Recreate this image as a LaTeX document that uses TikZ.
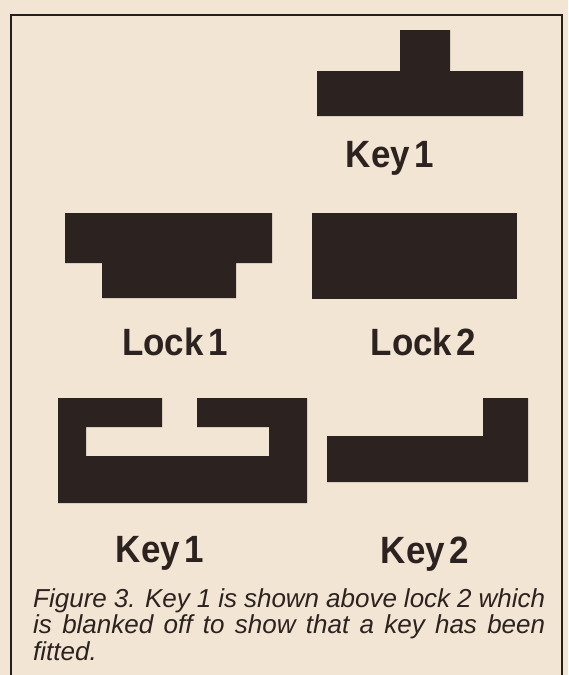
\documentclass[tikz,border=0pt]{standalone}
\usepackage{fontspec}
\setmainfont{Liberation Sans}
\definecolor{paper}{RGB}{243,229,212}
\definecolor{ink}{RGB}{44,34,31}
\definecolor{framec}{RGB}{35,32,30}
\begin{document}
\begin{tikzpicture}[x=1pt,y=-1pt,
  shapefill/.style={fill=ink,draw=none},
  lbl/.style={inner sep=0pt,anchor=base,text=ink,font=\fontsize{38}{40}\selectfont\bfseries},
  captxt/.style={inner sep=0pt,anchor=base west,text=ink,font=\fontsize{26}{28}\selectfont\itshape}]
\fill[paper] (0,0) rectangle (568,675);
\useasboundingbox (0,0) rectangle (568,675);
% frame
\draw[framec,line width=2.2pt] (11,675) -- (11,15) -- (562,15) -- (562,675);
% Key 1 (top)
\fill[shapefill] (317,71) -- (400,71) -- (400,30) -- (450,30) -- (450,71) -- (523,71) -- (523,116) -- (317,116) -- cycle;
\node[lbl] (k1a) at (390,167) {\scalebox{0.92}[1]{Key\hspace{5pt}1}};
% Lock 1
\fill[shapefill] (65,213) -- (272,213) -- (272,263) -- (236,263) -- (236,298) -- (102,298) -- (102,263) -- (65,263) -- cycle;
\node[lbl] (l1) at (175,355) {\scalebox{0.92}[1]{Lock\hspace{5pt}1}};
% Lock 2
\fill[shapefill] (312,213) rectangle (517,299);
\node[lbl] (l2) at (423.5,355) {\scalebox{0.92}[1]{Lock\hspace{5pt}2}};
% Key 1 (bottom)
\fill[shapefill] (58,398) -- (162,398) -- (162,427) -- (86,427) -- (86,456) -- (269,456) -- (269,427) -- (197,427) -- (197,398) -- (307,398) -- (307,503) -- (58,503) -- cycle;
\node[lbl] (k1b) at (160,562) {\scalebox{0.92}[1]{Key\hspace{5pt}1}};
% Key 2
\fill[shapefill] (327,436) -- (483,436) -- (483,398) -- (528,398) -- (528,482) -- (327,482) -- cycle;
\node[lbl] (k2) at (425,563) {\scalebox{0.92}[1]{Key\hspace{5pt}2}};
% caption
\node[captxt] (c1) at (33,607) {\makebox[512pt][s]{Figure 3. Key 1 is shown above lock 2 which}};
\node[captxt] (c2) at (33,633.5) {\makebox[512pt][s]{is blanked off to show that a key has been}};
\node[captxt] (c3) at (33,660) {fitted.};
\end{tikzpicture}
\end{document}
